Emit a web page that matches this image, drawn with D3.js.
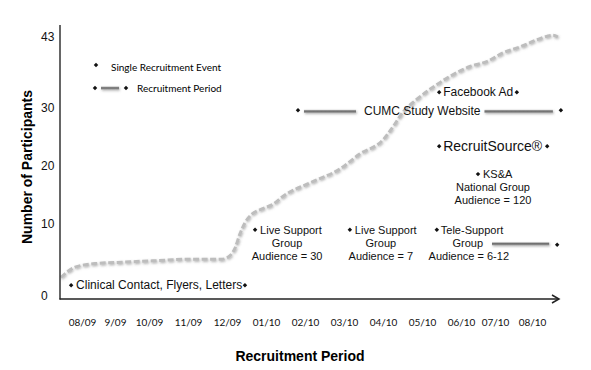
<!DOCTYPE html>
<html>
<head>
<meta charset="utf-8">
<script src="https://cdn.jsdelivr.net/npm/d3@7"></script>
<style>
    body { margin: 0; background: #fff; }
    svg { display: block; }
</style>
</head>
<body>
<div id="chart"></div>
<script>
// month labels on the x axis (index 0 = 08/09)
const months = ['08/09', '9/09', '10/09', '11/09', '12/09', '01/10', '02/10', '03/10', '04/10', '05/10', '06/10', '07/10', '08/10'];
const yTicks = [0, 10, 20, 30, 43];

// cumulative participants, month index -> count
const curveMonth = [-0.64, -0.21, 0.39, 1.21, 2.15, 3.0, 3.87, 4.0, 4.21, 4.33, 4.46, 4.64, 4.9, 5.18, 5.44, 6.13, 6.9, 7.41, 8.0, 8.26, 8.51, 8.87, 9.28, 9.72, 10.26, 10.76, 11.22, 11.68, 12.14, 12.57, 12.7];
const curveCount = [2.6, 4.0, 4.5, 4.7, 4.9, 5.1, 5.1, 5.3, 6.7, 8.6, 10.2, 11.7, 12.6, 13.4, 14.8, 17.1, 19.5, 22.1, 24.5, 26.8, 29.3, 31.6, 33.8, 35.8, 37.6, 38.5, 40.1, 41.2, 42.5, 43.3, 43.0];

// recruitment periods (start / end month index, row level in participants)
const periodNames = ['Clinical Contact, Flyers, Letters', 'CUMC Study Website', 'Facebook Ad', 'RecruitSource®', 'Tele-Support'];
const periodStart = [-0.33, 5.82, 9.44, 9.44, 9.38];
const periodEnd = [4.46, 12.78, 11.59, 12.41, 12.68];
const periodLevel = [1.5, 29.6, 32.9, 23.4, 9.2];

// single recruitment events
const eventLines = [
    ['Live Support', 'Group', 'Audience = 30'],
    ['Live Support', 'Group', 'Audience = 7'],
    ['KS&A', 'National Group', 'Audience = 120']
];
const eventMonth = [4.72, 7.15, 10.5];
const eventLevel = [9.2, 9.2, 18.6];

const legendLabels = ['Single Recruitment Event', 'Recruitment Period'];

const dimensions = { width: 591, height: 370 };
const arial = '"Liberation Sans", Arial, sans-serif';
const calibri = 'Lato, "Open Sans", sans-serif';

// Scales (labels in the source are not evenly spaced)
const xScale = d3.scaleLinear()
    .domain(d3.range(months.length))
    .range([82, 115, 149, 188, 227, 266, 305, 344, 383, 422, 461, 495, 532]);

const yScale = d3.scaleLinear()
    .domain(yTicks)
    .range([296, 224, 166, 108, 37]);

const svg = d3.select('#chart')
    .append('svg')
    .attr('width', dimensions.width)
    .attr('height', dimensions.height);

const defs = svg.append('defs');
const shadow = defs.append('filter').attr('id', 'shadow')
    .attr('filterUnits', 'userSpaceOnUse')
    .attr('x', 0).attr('y', 0).attr('width', dimensions.width).attr('height', dimensions.height);
shadow.append('feDropShadow')
    .attr('dx', 0.8).attr('dy', 1.2).attr('stdDeviation', 0.8)
    .attr('flood-color', '#666').attr('flood-opacity', 0.5);

const grad = defs.append('linearGradient').attr('id', 'bar')
    .attr('x1', 0).attr('x2', 0).attr('y1', 0).attr('y2', 1);
grad.append('stop').attr('offset', '0%').attr('stop-color', '#bdbdbd');
grad.append('stop').attr('offset', '45%').attr('stop-color', '#6a6a6a');
grad.append('stop').attr('offset', '100%').attr('stop-color', '#9a9a9a');

const diamond = (x, y) => svg.append('path')
    .attr('d', d3.symbol(d3.symbolSquare, 10)())
    .attr('transform', `translate(${x},${y}) rotate(45)`)
    .attr('fill', '#111');

const periodLine = (x1, x2, y) => svg.append('rect')
    .attr('x', x1).attr('width', x2 - x1)
    .attr('y', y - 1.5).attr('height', 3)
    .attr('fill', 'url(#bar)')
    .attr('filter', 'url(#shadow)');

const label = (text, x, y, size, anchor = 'start') => svg.append('text')
    .attr('x', x).attr('y', y)
    .attr('font-family', arial)
    .attr('font-size', size)
    .attr('text-anchor', anchor)
    .attr('dominant-baseline', 'central')
    .attr('fill', '#111')
    .text(text);

// Curve
const line = d3.line()
    .x((d, i) => xScale(curveMonth[i]))
    .y(d => yScale(d))
    .curve(d3.curveMonotoneX);

svg.append('path')
    .datum(curveCount)
    .attr('d', line)
    .attr('fill', 'none')
    .attr('stroke', '#bdbdbd')
    .attr('stroke-width', 3)
    .attr('stroke-dasharray', '6,2.5')
    .attr('filter', 'url(#shadow)');

// Axes
const yAxis = d3.axisLeft(yScale).tickValues(yTicks).tickSize(0);
const yAxisGroup = svg.append('g')
    .attr('transform', 'translate(60,0)')
    .call(yAxis);
yAxisGroup.select('.domain').remove();
yAxisGroup.selectAll('text')
    .attr('x', -19)
    .attr('text-anchor', 'start')
    .attr('font-family', arial)
    .attr('font-size', 12)
    .attr('fill', '#111');

const xAxis = d3.axisBottom(xScale)
    .tickValues(d3.range(months.length))
    .tickFormat(i => months[i])
    .tickSize(0)
    .tickPadding(20);
const xAxisGroup = svg.append('g')
    .attr('transform', 'translate(0,299)')
    .call(xAxis);
xAxisGroup.select('.domain').remove();
xAxisGroup.selectAll('text')
    .attr('font-family', calibri)
    .attr('font-size', 10)
    .attr('fill', '#111');

svg.append('line')
    .attr('x1', 60).attr('x2', 60).attr('y1', 25).attr('y2', 299.5)
    .attr('stroke', '#333').attr('stroke-width', 1.5);
svg.append('line')
    .attr('x1', 59.5).attr('x2', 559).attr('y1', 299).attr('y2', 299)
    .attr('stroke', '#222').attr('stroke-width', 1.5);
svg.append('path')
    .attr('d', 'M552,295 L559,299 L552,303')
    .attr('fill', 'none').attr('stroke', '#222').attr('stroke-width', 1.5);

// Axis titles
svg.append('text')
    .attr('x', 300).attr('y', 361)
    .attr('text-anchor', 'middle')
    .attr('font-family', arial).attr('font-size', 14).attr('font-weight', 'bold')
    .text('Recruitment Period');
svg.append('text')
    .attr('transform', 'translate(32,167) rotate(-90)')
    .attr('text-anchor', 'middle')
    .attr('font-family', arial).attr('font-size', 14).attr('font-weight', 'bold')
    .text('Number of Participants');

// Legend
diamond(96, 65);
svg.append('text').attr('x', 111).attr('y', 71)
    .attr('font-family', calibri).attr('font-size', 10).text(legendLabels[0]);
diamond(95, 88);
periodLine(101, 119, 88);
diamond(126, 88);
svg.append('text').attr('x', 137).attr('y', 92)
    .attr('font-family', calibri).attr('font-size', 10).text(legendLabels[1]);

// Periods
const py = i => yScale(periodLevel[i]);

// Clinical contact: diamond text diamond
diamond(xScale(periodStart[0]), py(0));
label(periodNames[0], xScale(periodStart[0]) + 5, py(0), 12);
diamond(xScale(periodEnd[0]), py(0));

// CUMC website: diamond line text line diamond
{
    const xs = xScale(periodStart[1]), xe = xScale(periodEnd[1]), y = py(1);
    diamond(xs, y);
    const t = label(periodNames[1], 364, y + 1, 12);
    const w = t.node().getComputedTextLength();
    periodLine(xs + 6, 356, y + 1);
    periodLine(364 + w + 4, xe - 8, y + 1);
    diamond(xe, y);
}

// Facebook Ad and RecruitSource
[[2, 12], [3, 14]].forEach(([i, size]) => {
    diamond(xScale(periodStart[i]), py(i));
    label(periodNames[i], xScale(periodStart[i]) + 4, py(i), size);
    diamond(xScale(periodEnd[i]), py(i));
});

// Tele-support group
{
    const xs = xScale(periodStart[4]), xe = xScale(periodEnd[4]), y = py(4);
    diamond(xs, y);
    label(periodNames[4], xs + 4, y, 11);
    label('Group', xs + 31, y + 13, 11, 'middle');
    label('Audience = 6-12', xs + 32, y + 26, 11, 'middle');
    periodLine(492, xe - 8, y + 14);
    diamond(xe, y + 15);
}

// Single events
const eventCenter = [32, 31, 15];
eventLines.forEach((lines, i) => {
    const x = xScale(eventMonth[i]), y = yScale(eventLevel[i]);
    diamond(x, y);
    label(lines[0], x + 5, y, 11);
    label(lines[1], x + eventCenter[i], y + 13, 11, 'middle');
    label(lines[2], x + eventCenter[i], y + 26, 11, 'middle');
});
</script>
</body>
</html>
